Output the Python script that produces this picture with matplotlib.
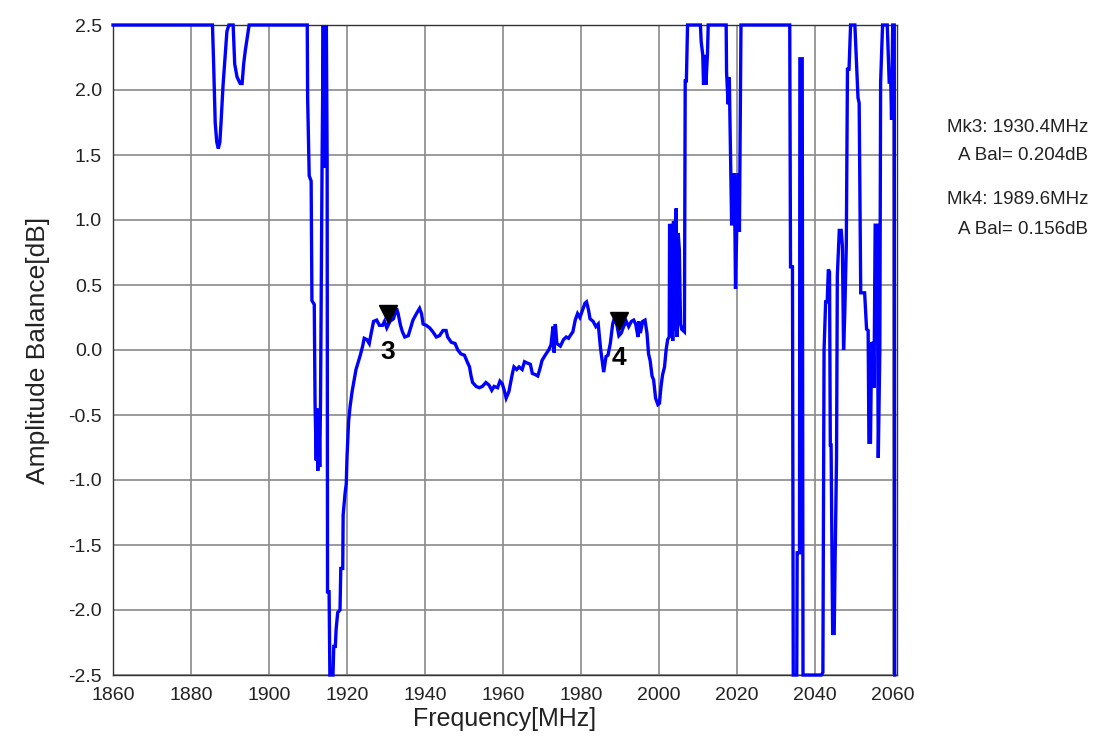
import matplotlib
matplotlib.use("Agg")
import matplotlib.pyplot as plt
from matplotlib.transforms import offset_copy

plt.rcParams['font.family'] = ['Liberation Sans', 'DejaVu Sans']

# ---- data ----
freq = [1860, 1885.5, 1885.8, 1886.2, 1886.6, 1887.0, 1887.4, 1887.7, 1888.2, 1888.6,
        1889.2, 1889.7, 1890.8, 1891.2, 1891.8, 1892.6, 1893.1, 1893.5, 1893.9, 1894.4,
        1894.9, 1909.8, 1909.9, 1910.3, 1910.8, 1911.0, 1911.6, 1911.8, 1912.1, 1912.3,
        1912.5, 1912.8, 1913.0, 1913.2, 1913.6, 1913.9, 1914.1, 1914.3, 1914.5, 1914.7,
        1914.9, 1915.0, 1915.4, 1915.6, 1916.4, 1916.6, 1917.0, 1917.2, 1917.6, 1918.2,
        1918.4, 1918.9, 1919.0, 1919.5, 1919.8, 1920.0, 1920.4, 1920.8, 1921.3, 1921.7,
        1922.3, 1922.8, 1923.4, 1924.0, 1924.4, 1925.1, 1925.7, 1926.2, 1926.8, 1927.6,
        1928.3, 1929.1, 1929.6, 1930.2, 1931.0, 1931.9, 1932.7, 1933.1, 1933.7, 1934.2,
        1934.8, 1935.7, 1936.3, 1936.9, 1937.8, 1938.6, 1939.1, 1939.5, 1940.3, 1941.2,
        1942.0, 1942.9, 1943.7, 1944.6, 1945.4, 1945.8, 1946.7, 1947.7, 1948.4, 1949.2,
        1950.1, 1950.8, 1951.4, 1951.8, 1952.2, 1953.1, 1953.9, 1954.7, 1955.6, 1956.4,
        1957.1, 1957.7, 1958.6, 1959.2, 1959.8, 1960.3, 1960.8, 1961.5, 1962.4, 1962.8,
        1963.5, 1964.1, 1964.9, 1965.5, 1966.2, 1967.0, 1967.5, 1968.3, 1968.9, 1969.4,
        1970.0, 1970.8, 1971.7, 1972.3, 1972.8, 1973.1, 1973.4, 1973.8, 1974.7, 1975.5,
        1976.2, 1976.8, 1977.2, 1977.9, 1978.5, 1979.1, 1979.7, 1980.4, 1981.0, 1981.4,
        1981.9, 1982.3, 1983.1, 1983.8, 1984.4, 1985.0, 1985.5, 1985.8, 1986.4, 1986.9,
        1987.5, 1988.1, 1988.6, 1989.2, 1989.7, 1990.3, 1990.9, 1991.6, 1992.2, 1992.9,
        1993.5, 1994.0, 1994.6, 1994.8, 1995.2, 1995.8, 1996.4, 1996.9, 1997.3, 1997.7,
        1998.2, 1998.6, 1999.1, 1999.7, 2000.1, 2000.5, 2000.9, 2001.4, 2001.8, 2002.2,
        2002.6, 2002.7, 2003.0, 2003.2, 2003.5, 2003.7, 2003.9, 2004.1, 2004.4, 2004.6,
        2004.9, 2005.2, 2005.5, 2005.8, 2006.5, 2006.7, 2007.0, 2007.3, 2010.6, 2010.8,
        2011.2, 2011.4, 2011.7, 2012.0, 2012.4, 2012.6, 2017.2, 2017.3, 2017.7, 2018.0,
        2018.6, 2019.0, 2019.3, 2019.6, 2019.9, 2020.3, 2020.6, 2021.0, 2033.5, 2033.7,
        2034.2, 2034.4, 2035.3, 2035.4, 2036.0, 2036.1, 2036.7, 2036.8, 2036.9, 2041.6,
        2042.0, 2042.3, 2042.7, 2043.1, 2043.4, 2043.7, 2043.9, 2044.1, 2044.5, 2044.9,
        2045.1, 2045.5, 2045.7, 2046.2, 2046.7, 2047.0, 2047.3, 2047.6, 2048.0, 2048.3,
        2048.7, 2049.1, 2050.2, 2051.0, 2051.3, 2051.7, 2052.7, 2053.2, 2053.6, 2053.8,
        2054.2, 2054.5, 2054.9, 2055.1, 2055.4, 2055.9, 2056.2, 2056.6, 2056.8, 2057.3,
        2058.5, 2059.0, 2059.4, 2059.6, 2059.9, 2060.3, 2060.4]
amp_bal = [2.5, 2.5, 2.2, 1.75, 1.6, 1.55, 1.6, 1.75, 2.03, 2.2,
           2.45, 2.5, 2.5, 2.2, 2.1, 2.05, 2.05, 2.2, 2.3, 2.4,
           2.5, 2.5, 1.94, 1.34, 1.3, 0.38, 0.35, -0.41, -0.85, -0.45,
           -0.93, -0.5, -0.9, -0.4, 1.44, 2.5, 1.4, 2.5, 1.45, 2.5,
           1.44, -1.86, -1.86, -2.5, -2.5, -2.28, -2.28, -2.15, -2.02, -2.0,
           -1.68, -1.68, -1.27, -1.1, -1.03, -0.82, -0.55, -0.43, -0.32, -0.25,
           -0.15, -0.10, -0.04, 0.03, 0.09, 0.08, 0.05, 0.13, 0.22, 0.23,
           0.19, 0.19, 0.22, 0.17, 0.22, 0.24, 0.32, 0.28, 0.19, 0.14,
           0.10, 0.11, 0.17, 0.23, 0.28, 0.32, 0.28, 0.20, 0.19, 0.17,
           0.14, 0.10, 0.11, 0.15, 0.15, 0.10, 0.06, 0.05, 0.0, -0.03,
           -0.04, -0.09, -0.13, -0.20, -0.25, -0.28, -0.29, -0.28, -0.25, -0.27,
           -0.31, -0.28, -0.29, -0.24, -0.26, -0.31, -0.37, -0.32, -0.18, -0.13,
           -0.15, -0.13, -0.15, -0.09, -0.10, -0.11, -0.18, -0.19, -0.20, -0.15,
           -0.08, -0.04, 0.0, 0.04, 0.18, -0.02, 0.20, 0.05, 0.03, 0.08,
           0.10, 0.09, 0.11, 0.14, 0.23, 0.28, 0.25, 0.31, 0.36, 0.37,
           0.31, 0.24, 0.22, 0.18, 0.20, 0.01, -0.10, -0.17, -0.05, -0.04,
           0.05, 0.20, 0.25, 0.19, 0.11, 0.13, 0.18, 0.22, 0.18, 0.22,
           0.23, 0.20, 0.10, 0.22, 0.13, 0.22, 0.23, 0.13, -0.03, -0.08,
           -0.20, -0.23, -0.37, -0.42, -0.41, -0.28, -0.19, -0.13, 0.0, 0.08,
           0.10, 0.97, 0.10, 0.97, 0.07, 0.99, 0.15, 0.94, 1.09, 0.10,
           0.90, 0.77, 0.20, 0.16, 0.14, 2.07, 2.07, 2.5, 2.5, 2.37,
           2.27, 2.04, 2.27, 2.04, 2.27, 2.5, 2.5, 2.14, 1.89, 2.1,
           0.97, 0.97, 1.36, 0.47, 0.91, 1.36, 0.91, 2.5, 2.5, 0.64,
           0.64, -2.5, -2.5, -1.56, -1.56, 2.24, 2.24, -0.03, -2.5, -2.5,
           -2.48, 0.0, 0.37, 0.37, 0.62, 0.6, -0.73, -0.73, -2.18, -2.18,
           -1.69, -0.83, 0.57, 0.92, 0.92, 0.8, 0.0, 0.27, 0.8, 2.16,
           2.16, 2.5, 2.5, 1.94, 1.9, 0.44, 0.44, 0.16, 0.15, -0.71,
           -0.71, 0.06, 0.04, -0.29, 0.96, 0.96, -0.83, 0.0, 2.06, 2.5,
           2.5, 2.06, 2.06, 1.77, 2.5, 2.5, -2.5]

marker_freqs = [1930.4, 1989.6]
marker_vals = [0.204, 0.156]
marker_labels = ['3', '4']
readout = ["Mk3: 1930.4MHz", "A Bal= 0.204dB", "Mk4: 1989.6MHz", "A Bal= 0.156dB"]

x_ticks = list(range(1860, 2061, 20))
y_ticks = [-2.5, -2.0, -1.5, -1.0, -0.5, 0.0, 0.5, 1.0, 1.5, 2.0, 2.5]

# ---- figure ----
W, H = 1096, 740
fig = plt.figure(figsize=(W / 100, H / 100), dpi=100)
ax = fig.add_axes([113 / W, 1 - 675 / H, (897 - 113) / W, (675 - 25) / H])

ax.plot(freq, amp_bal, color='#0000FF', lw=2.4, clip_on=False, zorder=3,
        solid_joinstyle='miter')

ax.set_xlim(1860, 2061)
ax.set_ylim(-2.5, 2.5)
ax.set_xticks(x_ticks)
ax.set_yticks(y_ticks)
ax.set_yticklabels([f"{v:.1f}" for v in y_ticks])
ax.tick_params(length=0, labelsize=14, colors='#222222')
ax.tick_params(axis='x', pad=9)
ax.tick_params(axis='y', pad=8)
ax.grid(True, color='#8a8a8a', lw=1.2)
ax.set_axisbelow(True)
for s in ax.spines.values():
    s.set_color('#333333')
    s.set_linewidth(1.0)

ax.set_xlabel("Frequency[MHz]", fontsize=18, color='#222222', labelpad=2)
ax.set_ylabel("Amplitude Balance[dB]", fontsize=19, color='#222222', labelpad=13)

# markers
for f, v, lab in zip(marker_freqs, marker_vals, marker_labels):
    tr = offset_copy(ax.transData, fig=fig, x=0, y=9, units='dots')
    ax.plot([f], [v], marker='v', color='black', markersize=13, transform=tr,
            zorder=4, linestyle='none')
    ax.annotate(lab, (f, v), xytext=(0, -12), textcoords='offset points',
                ha='center', va='top', fontsize=19, fontweight='bold',
                color='black', zorder=4)

# readout texts
ys = [128, 156, 199, 229]
for t, yy in zip(readout, ys):
    fig.text(1088 / W, 1 - yy / H, t, ha='right', va='center', fontsize=13.5,
             color='#222222')

fig.savefig("out.png", dpi=100)
